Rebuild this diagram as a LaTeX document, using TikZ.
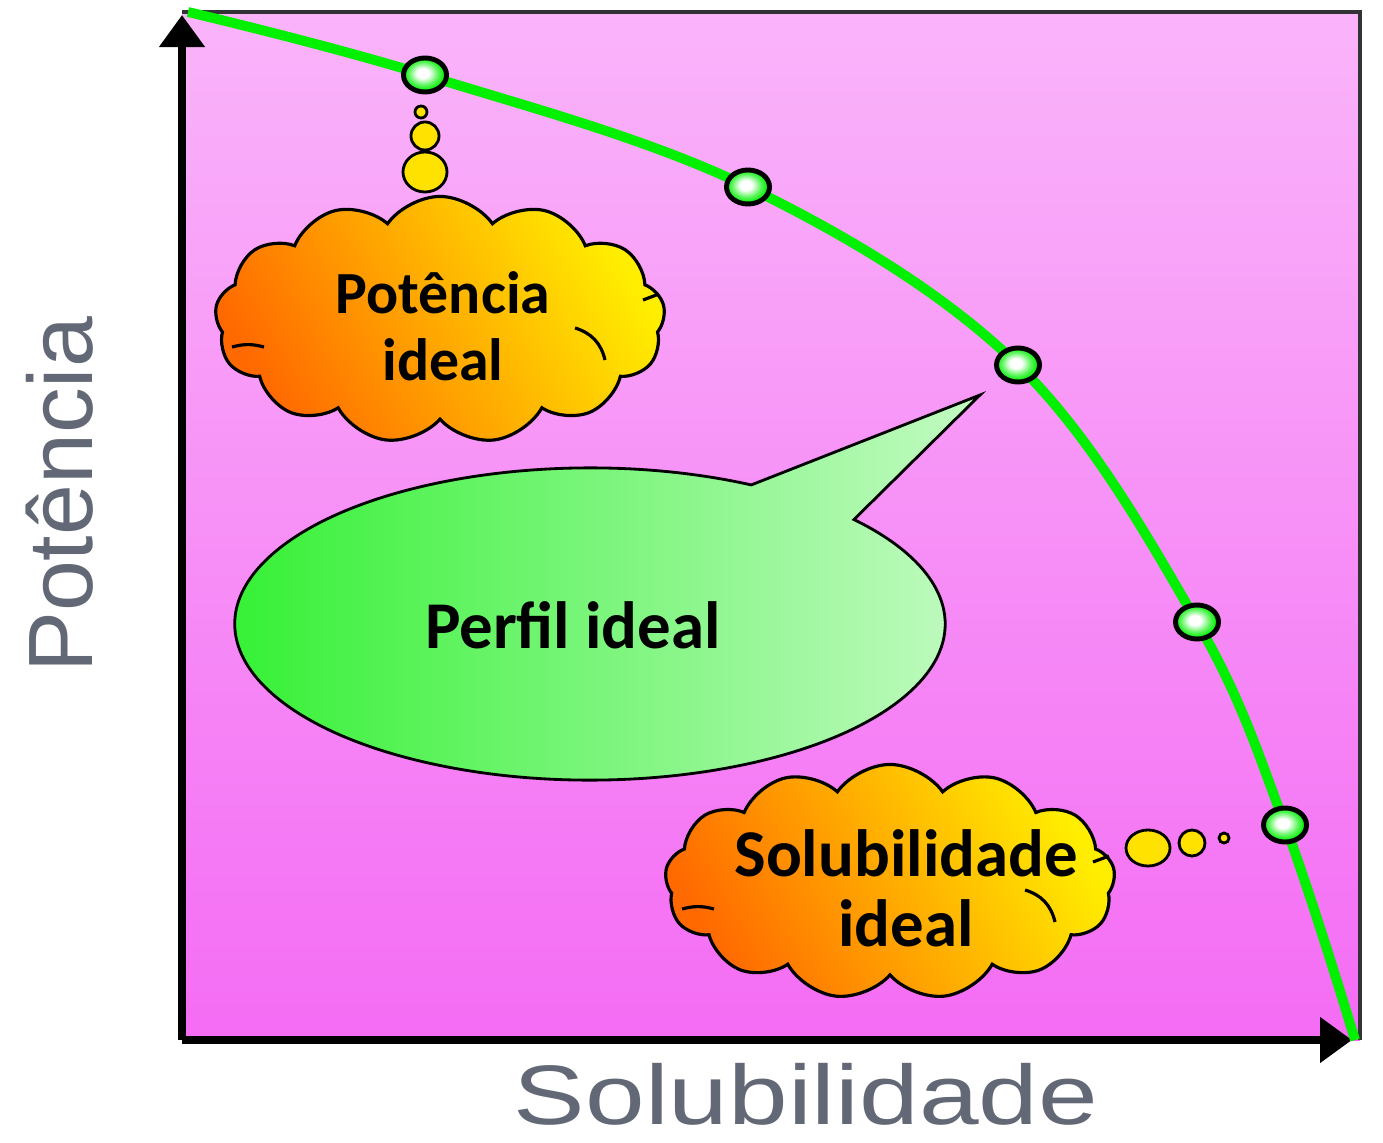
\documentclass[tikz,border=0pt]{standalone}
\usepackage{fontspec}
\usepackage{graphicx}
\setmainfont{Liberation Sans}
\newfontfamily\cloudfont{Carlito}
\usetikzlibrary{arrows.meta,shapes.symbols,shapes.geometric}
\definecolor{pinktop}{RGB}{250,180,250}
\definecolor{pinkbot}{RGB}{244,108,244}
\definecolor{curvegreen}{RGB}{0,240,0}
\definecolor{labelgrey}{RGB}{98,104,118}
\definecolor{bordergrey}{RGB}{50,50,55}
\definecolor{cloudorange}{RGB}{255,105,0}
\definecolor{cloudyellow}{RGB}{255,238,0}
\definecolor{puffyellow}{RGB}{255,226,0}
\definecolor{speechgreen}{RGB}{45,240,45}
\definecolor{speechpale}{RGB}{195,250,195}
\pgfdeclareradialshading{dotshade}{\pgfpoint{-3bp}{3bp}}{color(0bp)=(white); color(7bp)=(white);
  color(17bp)=(curvegreen!65!white); color(24bp)=(curvegreen); color(50bp)=(curvegreen)}
\begin{document}
\begin{tikzpicture}[x=0.01cm,y=0.01cm,
  axis/.style={line width=2.2pt,-{Triangle[length=0.32cm,width=0.44cm]}},
  dot/.style={ellipse,draw=black,line width=1.4pt,minimum width=0.43cm,minimum height=0.34cm,
    inner sep=0pt,shading=dotshade},
  thought/.style={cloud,cloud puffs=13,cloud puff arc=110,cloud ignores aspect,draw=black,line width=0.9pt,
    top color=cloudyellow,bottom color=cloudorange,shading angle=-60},
  cloudtext/.style 2 args={align=center,inner sep=0pt,font=\cloudfont\bfseries\fontsize{#1}{#2}\selectfont},
  puff/.style={ellipse,draw=black,line width=0.8pt,fill=puffyellow,inner sep=0pt},
  axislabel/.style={text=labelgrey,inner sep=0pt,font=\fontsize{26}{30}\selectfont}]
\useasboundingbox (0,0) rectangle (1383,1142);
\fill[white] (0,0) rectangle (1383,1142);
% plot area
\coordinate (O) at (182,102);
\coordinate (TL) at (182,1130);
\coordinate (TR) at (1360,1130);
\coordinate (BR) at (1360,102);
\shade[top color=pinktop,bottom color=pinkbot] (O) rectangle (TR);
\draw[bordergrey,line width=1pt] (TL) -- (TR) -- (BR);
\draw[axis] (O) -- (182,1127);
\draw[axis] (O) -- (1352,102);
% curve and its points
\coordinate (p0) at (188,1130);
\coordinate (p1) at (425,1067);
\coordinate (p2) at (748,955);
\coordinate (p3) at (1018,777);
\coordinate (p4) at (1197,520);
\coordinate (p5) at (1285,317);
\coordinate (p6) at (1355,102);
\draw[curvegreen,line width=2.8pt] plot[smooth,tension=0.6] coordinates {(p0) (p1) (p2) (p3) (p4) (p5) (p6)};
\foreach \i in {1,...,5}
  \node[dot] (d\i) at (p\i) {};
% thought clouds
\node[puff,minimum width=0.44cm,minimum height=0.4cm] (pa1) at (425,970) {};
\node[puff,minimum width=0.28cm,minimum height=0.28cm] (pa2) at (425,1006) {};
\node[puff,minimum width=0.12cm,minimum height=0.12cm] (pa3) at (421,1030) {};
\node[thought,minimum width=4.5cm,minimum height=2.47cm] (potcloud) at (440,822) {};
\node[puff,minimum width=0.44cm,minimum height=0.36cm] (pb1) at (1148,294) {};
\node[puff,minimum width=0.26cm,minimum height=0.26cm] (pb2) at (1192,299) {};
\node[puff,minimum width=0.1cm,minimum height=0.1cm] (pb3) at (1224,304) {};
\node[thought,minimum width=4.5cm,minimum height=2.35cm] (solcloud) at (890,260) {};
\foreach \c in {potcloud,solcloud} {
  \draw[line width=0.9pt] ([shift={(-208,-27)}]\c.center) to[bend left=15] ++(32,0);
  \draw[line width=0.9pt] ([shift={(135,-8)}]\c.center) to[bend left=30] ++(30,-32);
  \draw[line width=0.9pt] ([shift={(203,20)}]\c.center) -- ++(16,6);
}
\node[cloudtext={17}{19}] (pottext) at (443,816) {Potência\\ideal};
\node[cloudtext={19}{20}] (soltext) at (906,254) {Solubilidade\\ideal};
% speech bubble
\coordinate (P) at (590,518);
\coordinate (tip) at (980,747);
\shadedraw[draw=black,line width=0.8pt,left color=speechgreen,right color=speechpale]
  (P) ++(63:3.55cm and 1.56cm) arc[start angle=63,end angle=402,x radius=3.55cm,y radius=1.56cm]
  -- (tip) -- cycle;
\node[font=\cloudfont\bfseries\fontsize{19}{22}\selectfont] (perfil) at (573,517) {Perfil ideal};
% axis labels
\node[axislabel,rotate=90,anchor=base] (ylab) at (92,647) {Potência};
\node[axislabel,anchor=base,font=\fontsize{24}{28}\selectfont] (xlab) at (806,18) {\scalebox{1.27}[1]{Solubilidade}};
\end{tikzpicture}
\end{document}
